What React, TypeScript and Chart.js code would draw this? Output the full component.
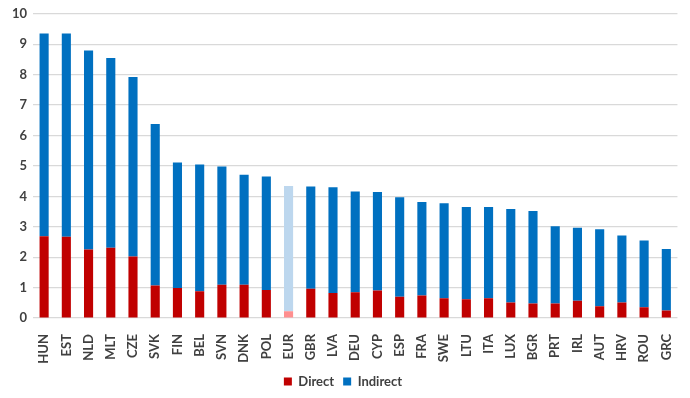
import React, { useEffect, useRef } from "react";
import { Chart, registerables } from "chart.js";

Chart.register(...registerables);

const categories = ["HUN","EST","NLD","MLT","CZE","SVK","FIN","BEL","SVN","DNK","POL","EUR","GBR","LVA","DEU","CYP","ESP","FRA","SWE","LTU","ITA","LUX","BGR","PRT","IRL","AUT","HRV","ROU","GRC"];
const totals = [9.35,9.35,8.79,8.55,7.92,6.38,5.11,5.05,4.98,4.71,4.65,4.34,4.32,4.30,4.16,4.14,3.97,3.81,3.77,3.65,3.65,3.58,3.52,3.02,2.97,2.92,2.71,2.55,2.27];
const direct = [2.69,2.67,2.25,2.31,2.02,1.07,0.99,0.88,1.09,1.09,0.92,0.22,0.96,0.82,0.85,0.90,0.70,0.74,0.65,0.62,0.65,0.51,0.48,0.48,0.57,0.39,0.51,0.35,0.25];
const indirect = totals.map((t, i) => Math.round((t - direct[i]) * 100) / 100);
const highlight = "EUR";
const yTicks = [0,1,2,3,4,5,6,7,8,9,10];

const RED = "#C00000";
const BLUE = "#0070C0";
const LIGHT_RED = "#FF8F8F";
const LIGHT_BLUE = "#BDD7EE";

export default function App() {
  const ref = useRef<HTMLCanvasElement>(null);
  useEffect(() => {
    if (!ref.current) return;
    const font = { family: "Lato, 'Liberation Sans', sans-serif", weight: "bold" as const, size: 13 };
    const chart = new Chart(ref.current, {
      type: "bar",
      data: {
        labels: categories,
        datasets: [
          {
            label: "Direct",
            data: direct,
            backgroundColor: categories.map(c => c === highlight ? LIGHT_RED : RED),
            barPercentage: 0.41,
            categoryPercentage: 1,
          },
          {
            label: "Indirect",
            data: indirect,
            backgroundColor: categories.map(c => c === highlight ? LIGHT_BLUE : BLUE),
            barPercentage: 0.41,
            categoryPercentage: 1,
          },
        ],
      },
      options: {
        animation: false,
        responsive: false,
        maintainAspectRatio: false,
        layout: { padding: { top: 5, right: 4, left: 0, bottom: 0 } },
        plugins: {
          tooltip: { enabled: false },
          legend: {
            position: "bottom",
            labels: {
              boxWidth: 8,
              boxHeight: 8,
              padding: 9,
              color: "#404040",
              font: { ...font, size: 13 },
              generateLabels: () => [
                { text: "Direct", fillStyle: RED, strokeStyle: RED, lineWidth: 0, datasetIndex: 0, fontColor: "#404040" },
                { text: "Indirect", fillStyle: BLUE, strokeStyle: BLUE, lineWidth: 0, datasetIndex: 1, fontColor: "#404040" },
              ] as any,
            },
          },
        },
        scales: {
          x: {
            stacked: true,
            grid: { display: false },
            border: { display: false },
            ticks: {
              color: "#404040",
              font: { ...font, size: 13 },
              minRotation: 90,
              maxRotation: 90,
              autoSkip: false,
              padding: 8,
            },
            afterFit: (s: any) => { s.height = 48; },
          },
          y: {
            stacked: true,
            min: 0,
            max: 10,
            afterBuildTicks: (s: any) => { s.ticks = yTicks.map(v => ({ value: v })); },
            grid: { color: "#D9D9D9", lineWidth: 1.2, drawTicks: false },
            border: { display: false },
            ticks: {
              color: "#404040",
              font: { ...font, size: 13 },
              padding: 6,
            },
            afterFit: (s: any) => { s.width = 33; },
          },
        },
      },
    });
    return () => chart.destroy();
  }, []);
  return (
    <div style={{ position: "absolute", left: 0, top: 0, width: 690, height: 398, background: "#fff" }}>
      <canvas ref={ref} width={690} height={398} style={{ width: 690, height: 398 }} />
    </div>
  );
}
